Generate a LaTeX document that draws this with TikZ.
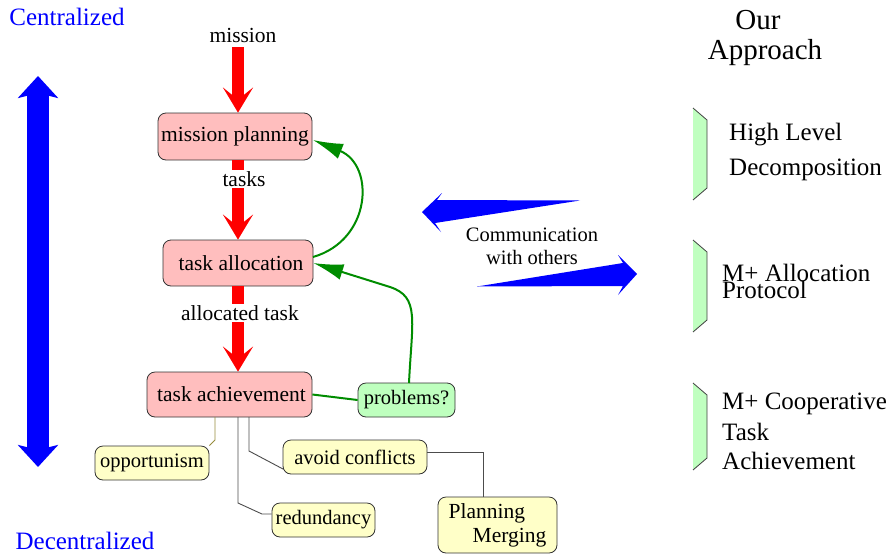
\documentclass[tikz,border=0pt]{standalone}
\usepackage{fontspec}
\setmainfont{Liberation Serif}
\usetikzlibrary{arrows.meta,calc}
\definecolor{pinkc}{RGB}{255,190,190}
\definecolor{greenc}{RGB}{190,255,190}
\definecolor{yellowc}{RGB}{255,255,200}
\definecolor{brackc}{RGB}{192,255,192}
\definecolor{darkgreen}{RGB}{0,140,0}
\definecolor{olivec}{RGB}{150,140,60}
\newcommand{\myfs}[2]{\fontsize{#1}{#2}\selectfont}
\tikzset{
  box/.style={draw=black!80, rounded corners=8pt, inner sep=0pt, line width=0.8pt, align=center},
  pinkbox/.style={box, fill=pinkc, font=\myfs{21.5}{24}},
  greenbox/.style={box, fill=greenc, font=\myfs{20.5}{23}},
  yellowbox/.style={box, fill=yellowc, font=\myfs{20.5}{23}},
  lbl/.style={font=\myfs{21.5}{24}, inner sep=1pt},
  redarrow/.style={draw=red, line width=12pt, -{Stealth[length=25pt,width=30pt,inset=12pt]}},
  greenarrow/.style={draw=darkgreen, line width=2pt, -{Latex[length=30pt,width=16pt]}},
  thinconn/.style={draw=black!70, line width=0.9pt},
  righttext/.style={font=\myfs{25}{28}, anchor=west, inner sep=0pt},
  bracket/.style={fill=brackc},
  bracketedge/.style={draw=black!75, line width=0.8pt},
}
\begin{document}
\begin{tikzpicture}[x=1pt,y=-1pt]
\useasboundingbox (0,0) rectangle (892,555);

% left scale
\node[text=blue, font=\myfs{25}{28}] (cen) at (67,17) {Centralized};
\node[text=blue, font=\myfs{25}{28}] (dec) at (85,541) {Decentralized};
\coordinate (vtop) at (38,76);
\coordinate (vbot) at (38,467);
\draw[blue, line width=22pt, {Stealth[length=22pt,width=40pt,inset=5pt]}-{Stealth[length=22pt,width=40pt,inset=5pt]}] (vtop) -- (vbot);

% main boxes
\node[pinkbox, minimum width=154pt, minimum height=47pt] (mp) at (235,136.5) {mission planning};
\node[pinkbox, minimum width=150pt, minimum height=46pt] (ta) at (238,263) {\hspace*{6pt}task allocation};
\node[pinkbox, minimum width=165pt, minimum height=45pt] (tach) at (229.5,394.5) {\hspace*{4pt}task achievement};
\node[greenbox, minimum width=97pt, minimum height=34pt] (pr) at (406.5,400) {problems?};

\node[yellowbox, minimum width=114pt, minimum height=34pt] (opp) at (152,463) {opportunism};
\node[yellowbox, minimum width=144pt, minimum height=34pt] (avo) at (355,457) {avoid conflicts};
\node[yellowbox, minimum width=103pt, minimum height=34pt] (red) at (323.5,520) {redundancy};
\node[yellowbox, minimum width=119pt, minimum height=56pt, align=left, font=\myfs{21.5}{24}] (pm) at (497.5,525) {Planning\\\hspace*{24pt}Merging};

% red flow
\node[lbl] (mis) at (243,35) {mission};
\coordinate (a1) at (238,47);
\draw[redarrow] (a1) -- (a1 |- mp.north);
\coordinate (a2) at (238,160);
\draw[redarrow] (a2) -- (a2 |- ta.north);
\node[lbl, fill=white] (tsk) at (244,179) {tasks};
\coordinate (a3) at (238,286);
\draw[redarrow] (a3) -- (a3 |- tach.north);
\node[lbl, fill=white] (alt) at (240,313) {allocated task};

% green feedback
\coordinate (g1s) at (313,257);
\coordinate (g1e) at (313,140);
\draw[greenarrow] (g1s) .. controls (372,240) and (375,165) .. (g1e);
\coordinate (g2s) at (409,383);
\coordinate (g2m) at (390,287);
\draw[greenarrow] (g2s) .. controls (412,320) and (420,297) .. (g2m) -- (ta.east);
\draw[draw=darkgreen, line width=2pt] (tach.east) -- (pr.west);

% achievement connectors
\coordinate (o1) at (215,417);
\coordinate (o2) at (215,440);
\draw[draw=olivec, line width=0.9pt] (o1) -- (o2) -- (opp.north east);
\coordinate (r1) at (238,417);
\coordinate (r2) at (238,503);
\coordinate (r3) at (262,514);
\draw[thinconn] (r1) -- (r2) -- (r3) -- (r3 -| red.west);
\coordinate (c1) at (249,417);
\coordinate (c2) at (249,451);
\coordinate (c3) at (283,469);
\draw[thinconn] (c1) -- (c2) -- (c3);
\coordinate (p1) at (483,452);
\draw[thinconn] (p1 -| avo.east) -- (p1) -- (p1 |- pm.north);

% communication arrows
\fill[blue] (422,212) -- (442,193) -- (437,200) -- (580,200.5) -- (435,223) -- (441,232) -- cycle;
\fill[blue] (637,274) -- (618,255) -- (623,263) -- (477,286.5) -- (623,286) -- (618,295) -- cycle;
\node[font=\myfs{20.5}{23}, align=center] (comm) at (532,246) {Communication\\with others};

% our approach
\node[font=\myfs{29}{32}] (our) at (758,20) {Our};
\node[font=\myfs{29}{32}] (appr) at (765,53) {Approach};

\fill[bracket] (693,108) -- (707,120) -- (707,188) -- (693,200) -- cycle;
\draw[bracketedge] (693,108) -- (707,120) -- (707,188) -- (693,200);
\fill[bracket] (693,240) -- (707,252) -- (707,320) -- (693,332) -- cycle;
\draw[bracketedge] (693,240) -- (707,252) -- (707,320) -- (693,332);
\fill[bracket] (693,383) -- (707,395) -- (707,458) -- (693,470) -- cycle;
\draw[bracketedge] (693,383) -- (707,395) -- (707,458) -- (693,470);

\node[righttext] (h1) at (729,135) {High Level};
\node[righttext] (h2) at (729,170) {Decomposition};
\node[righttext] (m1) at (722,273) {M+ Allocation};
\node[righttext] (m2) at (722,290) {Protocol};
\node[righttext] (k1) at (722,404) {M+ Cooperative};
\node[righttext] (k2) at (722,432) {Task};
\node[righttext] (k3) at (722,461) {Achievement};
\end{tikzpicture}
\end{document}
